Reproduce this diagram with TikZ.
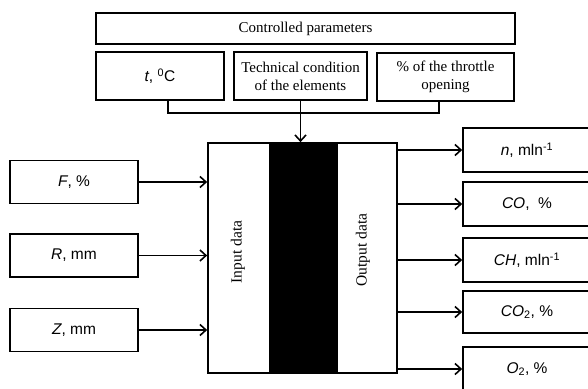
\documentclass[tikz,border=0pt]{standalone}
\usepackage{fontspec}
\setmainfont{Liberation Serif}
\setsansfont{Liberation Sans}
\usetikzlibrary{arrows.meta}
\tikzset{
  box/.style={draw, line width=1.7pt, inner sep=0pt, align=center},
  serbox/.style={box, font=\fontsize{15}{18}\selectfont\rmfamily},
  sanbox/.style={box, font=\fontsize{15.5}{18}\selectfont\sffamily, minimum width=128pt, minimum height=43pt},
  conn/.style={line width=1.7pt},
  arr/.style={conn, -{Straight Barb[length=6pt,width=11pt,line width=1.6pt]}},
  vlabel/.style={font=\fontsize{15.5}{18}\selectfont\rmfamily, rotate=90}
}
\begin{document}
\begin{tikzpicture}[x=1pt,y=-1pt]
\useasboundingbox (0,0) rectangle (588,388);
\clip (0,0) rectangle (588,388);
% controlled parameters
\node[serbox, minimum width=419pt, minimum height=31pt] (cp) at (305.5,28.5) {Controlled parameters};
\node[box, font=\fontsize{15.5}{18}\selectfont\sffamily, minimum width=128pt, minimum height=48pt] (tb) at (160,76) {\textit{t}, \textsuperscript{0}C};
\node[serbox, minimum width=133pt, minimum height=48pt] (tech) at (300.5,76) {Technical condition\\of the elements};
\node[serbox, minimum width=137pt, minimum height=48pt] (thr) at (445.5,77) {\% of the throttle\\opening};
% central block
\node[box, minimum width=189pt, minimum height=230pt] (cb) at (302.5,258) {};
\node[draw, fill=black, line width=1pt, inner sep=0pt, minimum width=68pt, minimum height=229pt] (bk) at (303,258) {};
\node[vlabel] (inl) at (238,252) {Input data};
\node[vlabel] (outl) at (363,250) {Output data};
% connectors from parameters
\coordinate (j) at (301,113);
\draw[conn] ([xshift=8pt]tb.south) |- (j) -| ([xshift=-6.5pt]thr.south);
\draw[arr] (tech.south) -- (tech.south |- cb.north);
% inputs
\node[sanbox] (f) at (74,182) {\textit{F}, \%};
\node[sanbox] (r) at (74,255.5) {\textit{R}, mm};
\node[sanbox] (z) at (74,330) {\textit{Z}, mm};
\foreach \n in {f,r,z} \draw[arr] (\n.east) -- (\n.east -| cb.west);
% outputs
\node[sanbox, minimum height=44pt] (n) at (527,150) {\textit{n}, mln\textsuperscript{-1}};
\node[sanbox, minimum height=44pt] (co) at (527,204) {\textit{CO},\ \ \%};
\node[sanbox, minimum height=44pt] (ch) at (527,260) {\textit{CH}, mln\textsuperscript{-1}};
\node[sanbox, minimum height=42pt] (co2) at (527,312) {\textit{CO}\textsubscript{2}, \%};
\node[sanbox, minimum height=44pt] (o2) at (527,369) {\textit{O}\textsubscript{2}, \%};
\foreach \n in {n,co,ch,co2,o2} \draw[arr] (\n.west -| cb.east) -- (\n.west);
\end{tikzpicture}
\end{document}
